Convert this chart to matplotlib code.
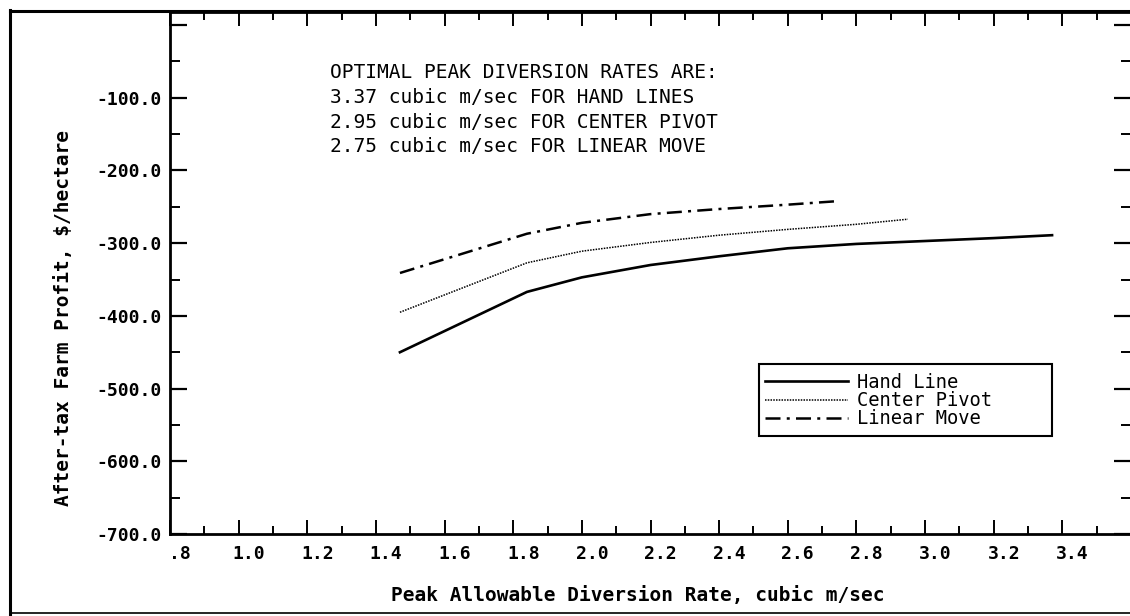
import matplotlib
matplotlib.use('Agg')
import matplotlib.pyplot as plt
from matplotlib.ticker import MultipleLocator, FixedLocator, FixedFormatter
from matplotlib.transforms import ScaledTranslation
from matplotlib.lines import Line2D
from matplotlib.patches import Rectangle

# ---- data ----
hand_x = [1.47, 1.84, 2.0, 2.2, 2.4, 2.6, 2.8, 3.0, 3.2, 3.37]
hand_y = [-450, -367, -347, -330, -318, -307, -301, -297, -293, -289]
pivot_x = [1.47, 1.84, 2.0, 2.2, 2.4, 2.6, 2.8, 2.95]
pivot_y = [-395, -327, -311, -299, -289, -281, -274, -267]
linear_x = [1.47, 1.84, 2.0, 2.2, 2.4, 2.6, 2.75]
linear_y = [-341, -287, -272, -260, -253, -247, -242]

x_ticks = [0.8, 1.0, 1.2, 1.4, 1.6, 1.8, 2.0, 2.2, 2.4, 2.6, 2.8, 3.0, 3.2, 3.4]
x_labels = ['.8', '1.0', '1.2', '1.4', '1.6', '1.8', '2.0', '2.2', '2.4',
            '2.6', '2.8', '3.0', '3.2', '3.4']
y_ticks = [-700, -600, -500, -400, -300, -200, -100, 0]
y_labels = ['-700.0', '-600.0', '-500.0', '-400.0', '-300.0', '-200.0', '-100.0', '']

note_lines = ['OPTIMAL PEAK DIVERSION RATES ARE:',
              '3.37 cubic m/sec FOR HAND LINES',
              '2.95 cubic m/sec FOR CENTER PIVOT',
              '2.75 cubic m/sec FOR LINEAR MOVE']

FONT = 'DejaVu Sans Mono'
plt.rcParams['font.family'] = FONT

W, H = 1130, 616
fig = plt.figure(figsize=(W / 100, H / 100), dpi=100)
fig.patch.set_facecolor('white')

def fx(px):
    return px / W

def fy(py):
    return 1 - py / H

ax_l, ax_r, ax_t, ax_b = 170, 1131, 12, 534
ax = fig.add_axes([fx(ax_l), fy(ax_b), (ax_r - ax_l) / W, (ax_b - ax_t) / H])
ax.set_xlim(0.8, 3.6)
ax.set_ylim(-700, 18)

ax.plot(hand_x, hand_y, color='black', lw=1.9, ls='-', label='Hand Line')
ax.plot(pivot_x, pivot_y, color='black', lw=1.1, ls=(0, (1, 0.8)), label='Center Pivot')
ax.plot(linear_x, linear_y, color='black', lw=1.8, ls=(0, (6, 2.5, 1.2, 2.5)), label='Linear Move')

for s in ax.spines.values():
    s.set_linewidth(2.0)
    s.set_color('black')

ax.xaxis.set_major_locator(FixedLocator(x_ticks))
ax.xaxis.set_major_formatter(FixedFormatter(x_labels))
ax.xaxis.set_minor_locator(MultipleLocator(0.1))
ax.yaxis.set_major_locator(FixedLocator(y_ticks))
ax.yaxis.set_major_formatter(FixedFormatter(y_labels))
ax.yaxis.set_minor_locator(MultipleLocator(50))

ax.tick_params(which='both', direction='in', top=True, right=True, color='black')
ax.tick_params(axis='x', which='major', length=10, width=1.4, pad=8, labelsize=13)
ax.tick_params(axis='x', which='minor', length=5.5, width=1.4)
ax.tick_params(axis='y', which='major', length=12, width=1.6, pad=6, labelsize=13)
ax.tick_params(axis='y', which='minor', length=7, width=1.4)

for lab in ax.get_xticklabels():
    lab.set_fontweight('bold')
    lab.set_transform(lab.get_transform() + ScaledTranslation(0.10, 0, fig.dpi_scale_trans))
for lab in ax.get_yticklabels():
    lab.set_fontweight('bold')

fig.text(fx(638), fy(595), 'Peak Allowable Diversion Rate, cubic m/sec',
         ha='center', va='center', fontsize=14, fontweight='bold')
fig.text(fx(64), fy(318), 'After-tax Farm Profit, $/hectare', rotation=90,
         ha='center', va='center', fontsize=14, fontweight='bold')

for i, line in enumerate(note_lines):
    fig.text(fx(330), fy(73 + 24.6 * i), line, ha='left', va='center', fontsize=14)

leg = ax.legend(loc='upper left', bbox_to_anchor=(fx(765), fy(373)),
                bbox_transform=fig.transFigure, borderaxespad=0,
                frameon=False, fontsize=13.5,
                handlelength=4.4, handletextpad=0.5, labelspacing=-0.05,
                borderpad=0.0)
fig.add_artist(Rectangle((fx(759), fy(436)), fx(1052) - fx(759), fy(364) - fy(436),
                         transform=fig.transFigure, fill=False,
                         edgecolor='black', lw=1.5))

# outer frame of the original sheet
fig.add_artist(Line2D([fx(10), fx(10)], [fy(10), 0], transform=fig.transFigure,
                      color='black', lw=2.2))
fig.add_artist(Line2D([fx(10), 1], [fy(11), fy(11)], transform=fig.transFigure,
                      color='black', lw=2.2))
fig.add_artist(Line2D([fx(10), 1], [fy(613), fy(613)], transform=fig.transFigure,
                      color='black', lw=1.2))

fig.savefig('out.png', dpi=100, facecolor='white')
